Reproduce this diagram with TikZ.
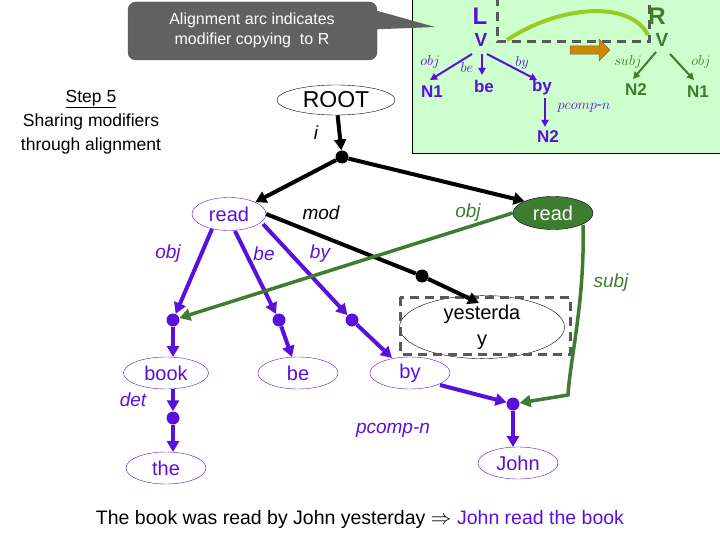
\documentclass[tikz,border=0pt]{standalone}
\usepackage{fontspec}
\setmainfont{Liberation Sans}
\usetikzlibrary{arrows.meta,shapes.geometric,shapes.arrows}
\definecolor{pur}{HTML}{5A10DC}
\definecolor{grn}{HTML}{3E7D30}
\definecolor{lgrn}{HTML}{CCFFCC}
\definecolor{arc}{HTML}{99CC22}
\definecolor{org}{HTML}{CC8800}
\begin{document}
\begin{tikzpicture}[x=1pt,y=-1pt,
  el/.style={ellipse,draw=pur,text=pur,font=\fontsize{20}{22}\selectfont,inner sep=0pt},
  pe/.style={pur,line width=4pt,-{Triangle[length=11pt,width=12pt]}},
  pl/.style={pur,line width=4pt},
  be/.style={black,line width=4pt,-{Triangle[length=11pt,width=12pt]}},
  bl/.style={black,line width=4pt},
  ge/.style={grn,line width=3.5pt,-{Triangle[length=11pt,width=12pt]}},
  dot/.style={circle,fill,inner sep=0pt,minimum size=13pt},
  lab/.style={font=\itshape\fontsize{19}{21}\selectfont},
  ip/.style={pur,line width=2pt,-{Triangle[length=7pt,width=7pt]}},
  ig/.style={grn,line width=2pt,-{Triangle[length=7pt,width=7pt]}},
  il/.style={font=\fontsize{15}{17}\selectfont},
  bp/.style={pur,font=\bfseries\fontsize{17}{19}\selectfont},
  bg/.style={grn,font=\bfseries\fontsize{17}{19}\selectfont}]
\useasboundingbox (0,0) rectangle (720,540);
% inset
\fill[lgrn,draw=black] (412,-2) rectangle (722,153);
\draw[gray!70!black,line width=3pt,dash pattern=on 9pt off 6pt] (497,-3) rectangle (649,42);
\draw[arc,line width=4pt] (507,40) .. controls (560,5) and (630,0) .. (648,35);
\node[single arrow,fill=org,draw=black!60,minimum height=40pt,minimum width=22pt,single arrow head extend=2pt,inner sep=1pt] (oa) at (588,50) {};
\node[pur,font=\bfseries\fontsize{24}{26}\selectfont] (L) at (480,16) {L};
\node[pur,font=\bfseries\fontsize{19}{20}\selectfont] (LV) at (481,40) {V};
\node[grn,font=\bfseries\fontsize{24}{26}\selectfont] (R) at (657,16) {R};
\node[grn,font=\bfseries\fontsize{19}{20}\selectfont] (RV) at (662,40) {V};
\node[bp] (n1) at (432,92) {N1};
\node[bp] (lbe) at (484,86) {be};
\node[bp] (lby) at (542,87) {by};
\node[bp] (n2) at (548,137) {N2};
\node[bg] (rn2) at (636,90) {N2};
\node[bg] (rn1) at (698,92) {N1};
\coordinate (lva) at (472,54); \coordinate (lvb) at (482,54); \coordinate (lvc) at (487,54);
\draw[ip] (lva) -- (430,80);
\draw[ip] (lvb) -- (482,75);
\draw[ip] (lvc) -- (537,80);
\draw[ip] (545,98) -- (545,127);
\draw[ig] (656,52) -- (633,79);
\draw[ig] (670,54) -- (694,80);
\node[pur,il] at (430,62) {$obj$};
\node[pur,il] at (467,68) {$be$};
\node[pur,il] at (522,63) {$by$};
\node[pur,il] at (584,108) {$pcomp$-$n$};
\node[grn,il] at (628,62) {$subj$};
\node[grn,il] at (701,62) {$obj$};
% callout
\fill[black!62,draw=black!70,rounded corners=8pt] (128,2) rectangle (377,60);
\fill[black!62] (360,6) -- (435,27) -- (360,30) -- cycle;
\node[white,align=center,font=\fontsize{16}{20}\selectfont] (co) at (252,30) {Alignment arc indicates\\modifier copying\ \ to R};
% step
\node[align=center,font=\fontsize{17.5}{24}\selectfont] (st) at (91,122) {\underline{Step 5}\\Sharing modifiers\\through alignment};
% main tree
\node[ellipse,draw,minimum width=118pt,minimum height=30pt,font=\fontsize{23}{25}\selectfont,inner sep=0pt] (root) at (336,100) {ROOT};
\node[lab] at (316,133) {i};
\node[dot] (d0) at (342,157) {};
\draw[be] (root) -- (d0);
\node[el,minimum width=74pt,minimum height=33pt] (readL) at (229,214) {read};
\node[ellipse,fill=grn,draw=black,text=white,font=\fontsize{20}{22}\selectfont,minimum width=80pt,minimum height=33pt,inner sep=0pt] (readR) at (553,213) {read};
\draw[be] (d0) -- (readL.north east);
\draw[be] (d0) -- (readR.north west);
\node[lab] at (321,213) {mod};
\node[lab,grn] at (468,213) {obj};
\node[ellipse,draw,minimum width=165pt,minimum height=45pt,align=center,font=\fontsize{20}{26}\selectfont,inner sep=0pt] (yes) at (482,327) {yesterda\\y};
\draw[gray!70!black,line width=3pt,dash pattern=on 9pt off 6pt] (400,297) rectangle (570,354);
\node[dot] (dm) at (422,276) {};
\draw[bl] (readL.east) -- (dm);
\draw[be] (dm) -- (479,303);
\node[el,minimum width=85pt,minimum height=32pt] (book) at (166,373) {book};
\node[el,minimum width=80pt,minimum height=32pt] (beN) at (298,373) {be};
\node[el,minimum width=80pt,minimum height=32pt] (byN) at (410,373) {by};
\node[el,minimum width=80pt,minimum height=32pt] (the) at (166,468) {the};
\node[el,minimum width=80pt,minimum height=32pt] (john) at (518,463) {John};
\node[dot,pur] (db) at (173,320) {};
\node[dot,pur] (de) at (279,320) {};
\node[dot,pur] (dy) at (352,320) {};
\node[dot,pur] (dj) at (513,404) {};
\node[dot,pur] (dt) at (173,418) {};
\draw[pe] (212,229) -- (db);
\draw[pe] (db) -- (173,357);
\draw[pe] (235,231) -- (de);
\draw[pe] (de) -- (292,357);
\draw[pe] (263,224) -- (dy);
\draw[pe] (dy) -- (392,358);
\draw[pe] (440,385) -- (dj);
\draw[pe] (dj) -- (513,447);
\draw[pe] (173,389) -- (dt);
\draw[pe] (dt) -- (173,452);
\node[lab,pur] at (168,254) {obj};
\node[lab,pur] at (264,254) {be};
\node[lab,pur] at (320,254) {by};
\node[lab,pur] at (133,400) {det};
\node[lab,pur] at (393,430) {pcomp-n};
\node[lab,grn] at (611,283) {subj};
\draw[ge] (readR.west) -- (db);
\draw[ge] (583,225) .. controls (585,300) and (570,360) .. (568,395) -- (dj);
% bottom
\node[font=\fontsize{19.5}{22}\selectfont] (bot) at (360,519) {The book was read by John yesterday $\Rightarrow$ \textcolor{pur}{John read the book}};
\end{tikzpicture}
\end{document}
